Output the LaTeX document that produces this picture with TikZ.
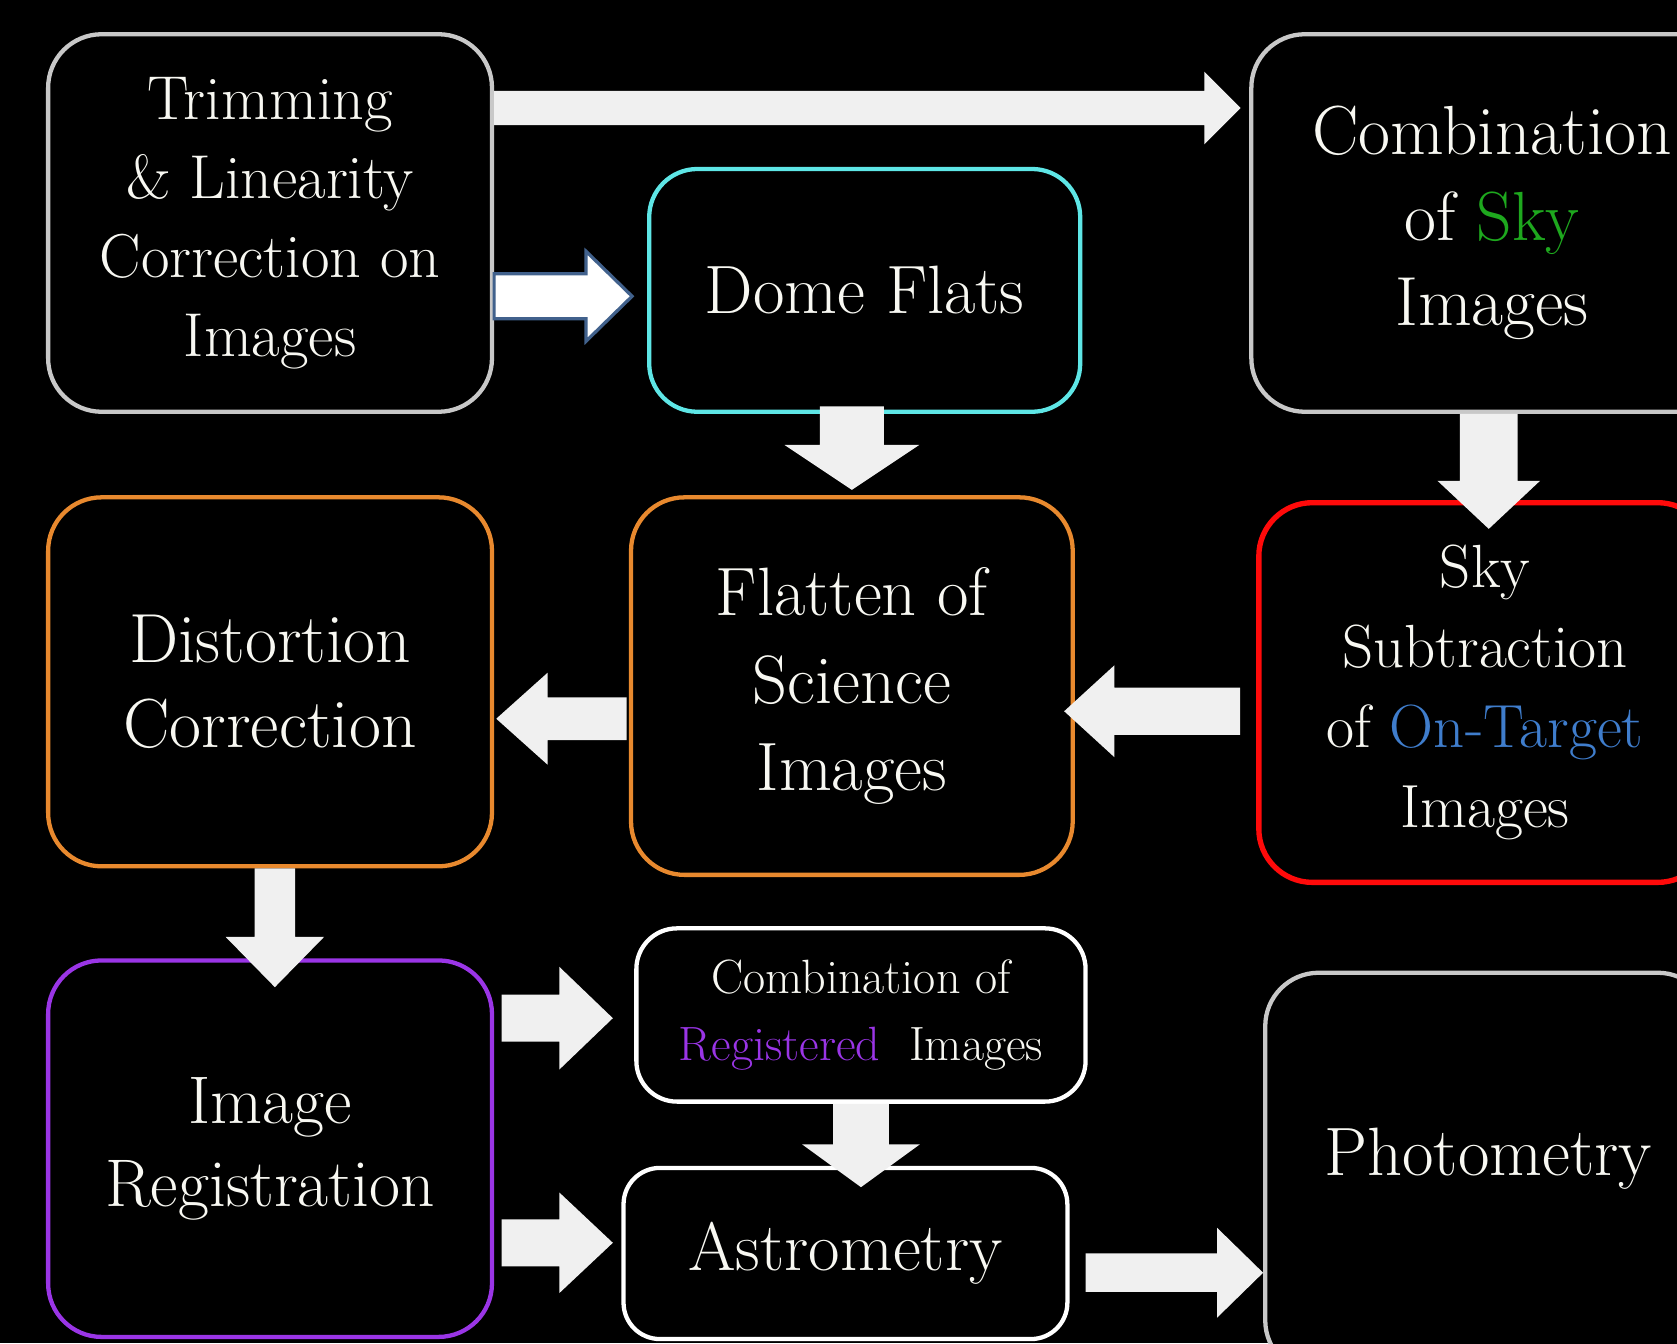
\documentclass[tikz,border=0pt]{standalone}
\usetikzlibrary{calc}
\definecolor{boxgray}{HTML}{C8C8C8}
\definecolor{cyanb}{HTML}{5EE6E6}
\definecolor{orangeb}{HTML}{E8892E}
\definecolor{redb}{HTML}{FF0A0A}
\definecolor{purpleb}{HTML}{9A35E6}
\definecolor{skygreen}{HTML}{1EA81E}
\definecolor{otblue}{HTML}{3F7DCC}
\definecolor{arrgray}{HTML}{F0F0F0}
\definecolor{edgeblue}{HTML}{41618C}
\definecolor{txt}{HTML}{F8F8F2}
\newcommand\RArr[6]{\path[#1] let \p1=#2, \p2=#3 in (\x1,\y1+#4) -- (\x2-#6,\y1+#4) -- (\x2-#6,\y1+#5) -- (\x2,\y1) -- (\x2-#6,\y1-#5) -- (\x2-#6,\y1-#4) -- (\x1,\y1-#4) -- cycle;}
\newcommand\LArr[6]{\path[#1] let \p1=#2, \p2=#3 in (\x1,\y1+#4) -- (\x2+#6,\y1+#4) -- (\x2+#6,\y1+#5) -- (\x2,\y1) -- (\x2+#6,\y1-#5) -- (\x2+#6,\y1-#4) -- (\x1,\y1-#4) -- cycle;}
\newcommand\DArr[6]{\path[#1] let \p1=#2, \p2=#3 in (\x1+#4,\y1) -- (\x1+#4,\y2+#6) -- (\x1+#5,\y2+#6) -- (\x1,\y2) -- (\x1-#5,\y2+#6) -- (\x1-#4,\y2+#6) -- (\x1-#4,\y1) -- cycle;}
\begin{document}
\begin{tikzpicture}[x=1pt,y=-1pt,
  box/.style={draw, line width=4pt, rounded corners=50pt, fill=black, text=txt, align=center, inner sep=0pt},
  smallbox/.style={box, rounded corners=38pt},
  arr/.style={fill=arrgray},
  arrout/.style={fill=white, draw=edgeblue, line width=3pt, line join=miter}]
\fill[black] (0,0) rectangle (1568,1256);
\useasboundingbox (0,0) rectangle (1568,1256);

\node[box, draw=boxgray, minimum width=415pt, minimum height=353pt, font=\fontsize{58}{74}\selectfont] (trim) at (252.5,208.5) {Trimming\\\& Linearity\\Correction on\\Images};
\node[box, draw=cyanb, rounded corners=45pt, minimum width=403pt, minimum height=227pt, font=\fontsize{64}{78}\selectfont] (dome) at (808.5,271.5) {Dome Flats};
\node[box, draw=boxgray, minimum width=450pt, minimum height=353pt, font=\fontsize{65}{80}\selectfont] (csky) at (1395,208.5) {Combination\\of {\color{skygreen}Sky}\\Images};
\node[box, draw=orangeb, minimum width=415pt, minimum height=345pt, font=\fontsize{65}{80}\selectfont] (dist) at (252.5,637.5) {Distortion\\Correction};
\node[box, draw=orangeb, minimum width=413pt, minimum height=353pt, font=\fontsize{64}{82}\selectfont] (flat) at (796.5,641.5) {Flatten of\\Science\\Images};
\node[box, draw=redb, line width=5pt, minimum width=423pt, minimum height=355pt, font=\fontsize{57}{75}\selectfont] (ssub) at (1388.5,647.5) {Sky\\Subtraction\\of {\color{otblue}On-Target}\\Images};
\node[box, draw=purpleb, minimum width=415pt, minimum height=352pt, font=\fontsize{63}{78}\selectfont] (reg) at (252.5,1074) {Image\\Registration};
\node[smallbox, draw=white, minimum width=420pt, minimum height=162pt, font=\fontsize{45}{62}\selectfont] (creg) at (805,949) {Combination of\\{\color{purpleb}Registered}\hspace{0.6em}Images};
\node[smallbox, draw=white, rounded corners=34pt, minimum width=415pt, minimum height=160pt, font=\fontsize{64}{78}\selectfont] (astro) at (790.5,1172) {Astrometry};
\node[box, draw=boxgray, minimum width=417pt, minimum height=375pt, text depth=40pt, font=\fontsize{64}{78}\selectfont] (phot) at (1391.5,1097) {Photometry};

\RArr{arr}{(trim.east |- 0,101)}{($(csky.west |- 0,101)+(-8,0)$)}{16pt}{34pt}{34pt}
\RArr{arrout}{(trim.east |- 0,277)}{($(dome.west |- 0,277)+(-14,0)$)}{21pt}{42pt}{43pt}
\DArr{arr}{($(flat.north |- dome.south)+(0,-7)$)}{($(flat.north)+(0,-5)$)}{30pt}{63pt}{42pt}
\DArr{arr}{($(csky.south)+(-3,0)$)}{($(ssub.north)+(0,27)$)}{27pt}{48pt}{45pt}
\LArr{arr}{($(ssub.west |- 0,665)+(-15,0)$)}{($(flat.east |- 0,665)+(-10,0)$)}{22pt}{43pt}{47pt}
\LArr{arr}{($(flat.west |- 0,672)+(-2,0)$)}{($(dist.east |- 0,672)+(2,0)$)}{20pt}{43pt}{48pt}
\DArr{arr}{($(dist.south)+(4.5,0)$)}{($(reg.north)+(0,27)$)}{19pt}{46pt}{47pt}
\RArr{arr}{($(reg.east |- 0,952)+(7,0)$)}{($(creg.west |- 0,952)+(-20,0)$)}{22pt}{48pt}{50pt}
\RArr{arr}{($(reg.east |- 0,1162)+(7,0)$)}{($(astro.west |- 0,1162)+(-8,0)$)}{22pt}{47pt}{50pt}
\DArr{arr}{(creg.south)}{($(astro.north)+(0,20)$)}{26pt}{55pt}{40pt}
\RArr{arr}{($(astro.east |- 0,1190)+(15,0)$)}{(phot.west |- 0,1190)}{18pt}{42pt}{43pt}
\end{tikzpicture}
\end{document}
